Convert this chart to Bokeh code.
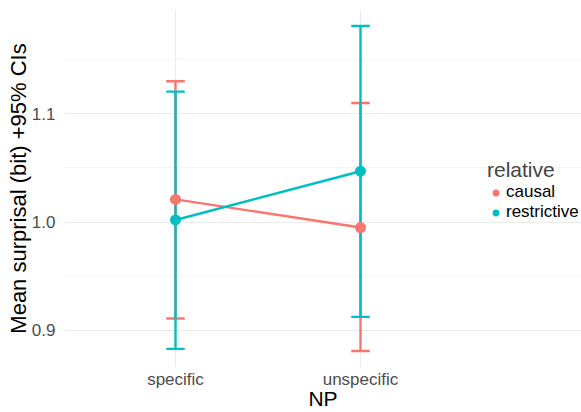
from bokeh.plotting import figure
from bokeh.models import Legend, LegendItem, FixedTicker, Range1d
from bokeh.embed import file_html
from bokeh.resources import INLINE

categories = ["specific", "unspecific"]
groups = ["causal", "restrictive"]
mean_causal = [1.021, 0.995]
lower_causal = [0.911, 0.881]
upper_causal = [1.130, 1.110]
mean_restrictive = [1.002, 1.047]
lower_restrictive = [0.883, 0.9125]
upper_restrictive = [1.1205, 1.181]
colors = ["#F8766D", "#00BFC4"]
y_ticks = [0.9, 1.0, 1.1]
y_minor = [0.95, 1.05, 1.15]

FONT = "Liberation Sans"
xpos = [i + 1 for i in range(len(categories))]

# panel: x from 0.4 to 2.6 over 407 px; frame extended to the right edge to host the legend
W, LEFT = 581, 64
panel_px = 407
x_lo, x_hi = 0.4, 2.6
x_end = x_lo + (x_hi - x_lo) * (W - LEFT) / panel_px

p = figure(width=W, height=412, output_backend="svg", toolbar_location=None,
           x_range=Range1d(x_lo, x_end), y_range=Range1d(0.8658, 1.1963),
           min_border_left=LEFT, min_border_right=0, min_border_top=9, min_border_bottom=43)
p.outline_line_color = None
p.background_fill_color = "white"

series = [
    (mean_causal, lower_causal, upper_causal, colors[0]),
    (mean_restrictive, lower_restrictive, upper_restrictive, colors[1]),
]
cap = 0.05
for m, lo, hi, c in series:
    p.segment(x0=xpos, y0=lo, x1=xpos, y1=hi, line_color=c, line_width=2.4)
    p.segment(x0=[x - cap for x in xpos], y0=lo, x1=[x + cap for x in xpos], y1=lo, line_color=c, line_width=2.4)
    p.segment(x0=[x - cap for x in xpos], y0=hi, x1=[x + cap for x in xpos], y1=hi, line_color=c, line_width=2.4)
for m, lo, hi, c in series:
    p.line(xpos, m, line_color=c, line_width=2.4)
pts = []
for m, lo, hi, c in series:
    pts.append(p.scatter(xpos, m, size=11, fill_color=c, line_color=c, line_width=0))

# axes
p.xaxis.ticker = FixedTicker(ticks=xpos)
p.xaxis.major_label_overrides = {x: c for x, c in zip(xpos, categories)}
p.yaxis.ticker = FixedTicker(ticks=y_ticks, minor_ticks=y_minor)
p.yaxis.major_label_overrides = {t: f"{t:.1f}" for t in y_ticks}
for ax in (p.xaxis[0], p.yaxis[0]):
    ax.axis_line_color = None
    ax.major_tick_line_color = None
    ax.minor_tick_line_color = None
    ax.major_label_text_font = FONT
    ax.major_label_text_font_size = "17px"
    ax.major_label_text_color = "#4D4D4D"
    ax.axis_label_text_font = FONT
    ax.axis_label_text_font_size = "21px"
    ax.axis_label_text_font_style = "normal"
    ax.axis_label_text_color = "black"
p.yaxis.axis_label_text_font_size = "22px"
p.xaxis.axis_label = "NP"
p.yaxis.axis_label = "Mean surprisal (bit) +95% CIs"
p.xaxis.major_label_standoff = -4
p.xaxis.axis_label_standoff = -5
p.yaxis.major_label_standoff = 3
p.yaxis.axis_label_standoff = -2

p.xgrid.grid_line_color = "#EBEBEB"
p.ygrid.grid_line_color = "#EBEBEB"
p.ygrid.minor_grid_line_color = "#F4F4F4"
p.xgrid.grid_line_width = 1.2
p.ygrid.grid_line_width = 1.2
p.ygrid.minor_grid_line_width = 1.2
p.ygrid.bounds = (x_lo, x_hi)

legend = Legend(items=[LegendItem(label=g, renderers=[r]) for g, r in zip(groups, pts)],
                location=(423, 145), orientation="vertical")
legend.title = "relative"
legend.title_text_font = FONT
legend.title_text_font_size = "21px"
legend.title_text_font_style = "normal"
legend.title_standoff = 0
legend.label_text_font = FONT
legend.label_text_font_size = "17px"
legend.label_text_color = "black"
legend.label_standoff = 2
legend.label_height = 17
legend.glyph_height = 17
legend.glyph_width = 17
legend.spacing = 0
legend.padding = 0
legend.margin = 0
legend.border_line_color = None
legend.background_fill_alpha = 0
p.add_layout(legend)

open("out.html", "w").write(file_html(p, INLINE))
